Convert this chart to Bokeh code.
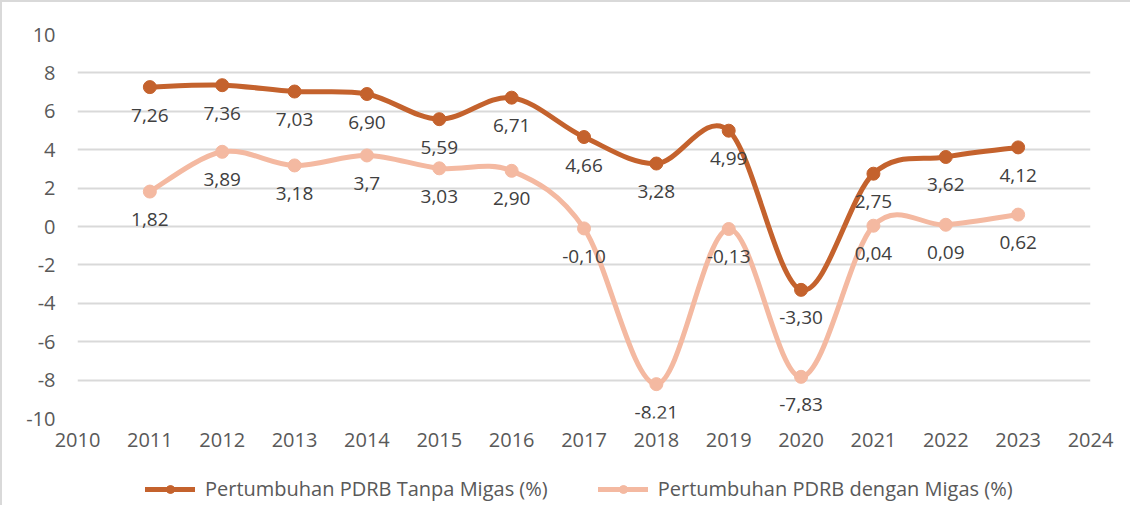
from bokeh.plotting import figure
from bokeh.layouts import column
from bokeh.models import ColumnDataSource, Legend, LegendItem, FixedTicker, LabelSet
from bokeh.embed import file_html
from bokeh.resources import INLINE
from bokeh.core.properties import value

years = [2011, 2012, 2013, 2014, 2015, 2016, 2017, 2018, 2019, 2020, 2021, 2022, 2023]
tanpa_migas = [7.26, 7.36, 7.03, 6.90, 5.59, 6.71, 4.66, 3.28, 4.99, -3.30, 2.75, 3.62, 4.12]
tanpa_labels = ["7,26", "7,36", "7,03", "6,90", "5,59", "6,71", "4,66", "3,28", "4,99", "-3,30", "2,75", "3,62", "4,12"]
dengan_migas = [1.82, 3.89, 3.18, 3.7, 3.03, 2.90, -0.10, -8.21, -0.13, -7.83, 0.04, 0.09, 0.62]
dengan_labels = ["1,82", "3,89", "3,18", "3,7", "3,03", "2,90", "-0,10", "-8,21", "-0,13", "-7,83", "0,04", "0,09", "0,62"]
series_names = ["Pertumbuhan PDRB Tanpa Migas (%)", "Pertumbuhan PDRB dengan Migas (%)"]
x_ticks = list(range(2010, 2025))
y_ticks = [-10, -8, -6, -4, -2, 0, 2, 4, 6, 8, 10]
y_tick_labels = ["-10", "-8", "-6", "-4", "-2", "0", "2", "4", "6", "8", "10"]

DARK = "#C4622D"
LIGHT = "#F4B9A1"
FONT = "Open Sans"
TICK_COLOR = "#595959"
LABEL_COLOR = "#404040"
BORDER = "2px solid #D9D9D9"


def bezier_source(xs, ys):
    """Excel-like smoothed line: cubic Bezier segments between data points."""
    n = len(xs)
    d = dict(x0=[], y0=[], x1=[], y1=[], cx0=[], cy0=[], cx1=[], cy1=[])
    for i in range(n - 1):
        pm = i - 1 if i > 0 else 0
        pp = i + 2 if i + 2 < n else n - 1
        d["x0"].append(xs[i]); d["y0"].append(ys[i])
        d["x1"].append(xs[i + 1]); d["y1"].append(ys[i + 1])
        d["cx0"].append(xs[i] + (xs[i + 1] - xs[pm]) / 6.0)
        d["cy0"].append(ys[i] + (ys[i + 1] - ys[pm]) / 6.0)
        d["cx1"].append(xs[i + 1] - (xs[pp] - xs[i]) / 6.0)
        d["cy1"].append(ys[i + 1] - (ys[pp] - ys[i]) / 6.0)
    return ColumnDataSource(d)


p = figure(width=1130, height=461, x_range=(2010, 2024), y_range=(-10, 10),
           output_backend="svg", toolbar_location=None,
           min_border_left=75, min_border_right=42, min_border_top=32, min_border_bottom=45)
p.styles = {"border-left": BORDER, "border-top": BORDER}
p.outline_line_color = None
p.background_fill_color = "white"
p.border_fill_color = "white"

# grid
p.xgrid.grid_line_color = None
p.ygrid.ticker = FixedTicker(ticks=y_ticks)
p.ygrid.grid_line_color = "#D9D9D9"
p.ygrid.grid_line_width = 2

# axes
for ax in (p.xaxis[0], p.yaxis[0]):
    ax.axis_line_color = None
    ax.major_tick_line_color = None
    ax.minor_tick_line_color = None
    ax.major_tick_in = 0
    ax.major_tick_out = 0
    ax.major_label_text_font = FONT
    ax.major_label_text_font_size = "20px"
    ax.major_label_text_color = TICK_COLOR
p.xaxis.ticker = FixedTicker(ticks=x_ticks)
p.yaxis.ticker = FixedTicker(ticks=y_ticks)
p.yaxis.major_label_overrides = {t: s for t, s in zip(y_ticks, y_tick_labels)}
p.yaxis.major_label_standoff = 22
p.xaxis.major_label_standoff = 14

# legend strip below the chart
q = figure(width=1130, height=44, x_range=(0, 1), y_range=(0, 1),
           output_backend="svg", toolbar_location=None,
           x_axis_type=None, y_axis_type=None,
           min_border_left=0, min_border_right=0, min_border_top=0, min_border_bottom=0)
q.styles = {"border-left": BORDER}
q.outline_line_color = None
q.xgrid.visible = False
q.ygrid.visible = False

items = []
for name, vals, labels, color in ((series_names[0], tanpa_migas, tanpa_labels, DARK),
                                  (series_names[1], dengan_migas, dengan_labels, LIGHT)):
    bsrc = bezier_source(years, vals)
    src = ColumnDataSource(dict(x=years, y=vals, lab=labels))
    bez_kw = dict(x0="x0", y0="y0", x1="x1", y1="y1", cx0="cx0", cy0="cy0", cx1="cx1", cy1="cy1",
                  source=bsrc, line_color=color, line_width=5, line_cap="round")
    p.bezier(**bez_kw)
    p.scatter("x", "y", source=src, size=13, fill_color=color, line_color=color)
    p.add_layout(LabelSet(x="x", y="y", text="lab", source=src, text_align="center",
                          text_baseline="middle", y_offset=-28, text_font=value(FONT),
                          text_font_size="19px", text_color=LABEL_COLOR))
    # same series in the legend strip (outside its visible range) to feed the legend
    qb = q.bezier(**bez_kw)
    qs = q.scatter("x", "y", source=src, size=13, fill_color=color, line_color=color)
    items.append(LegendItem(label=name, renderers=[qb, qs]))

legend = Legend(items=items, orientation="horizontal", location=(68, 3),
                label_text_font=FONT, label_text_font_size="20px", label_text_color=TICK_COLOR,
                glyph_width=50, glyph_height=20, label_standoff=10, spacing=50,
                border_line_color=None, background_fill_alpha=0, margin=0, padding=2)
q.add_layout(legend, "center")

layout = column(p, q, spacing=0)
open("out.html", "w").write(file_html(layout, INLINE))
